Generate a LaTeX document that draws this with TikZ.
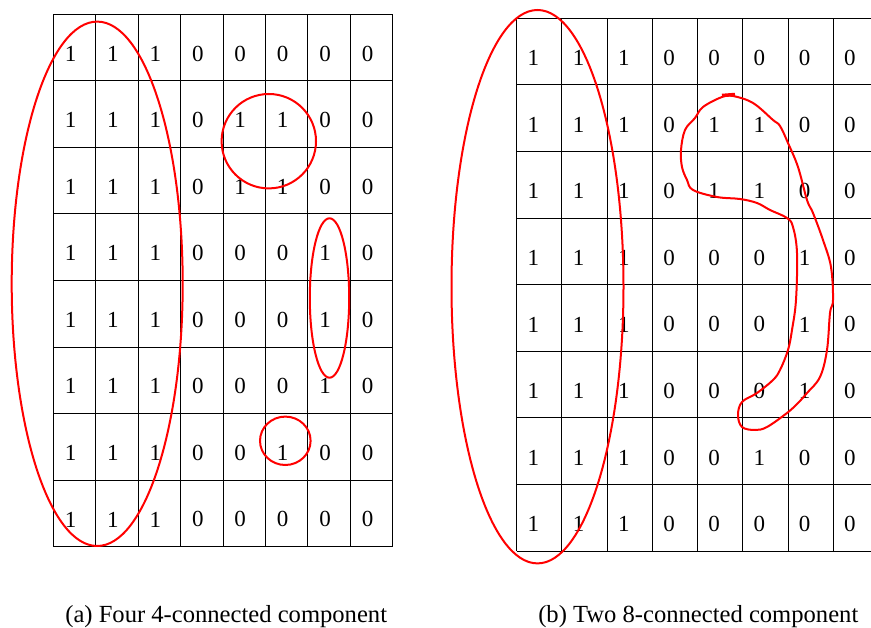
\documentclass[tikz,border=0pt]{standalone}
\usepackage{fontspec}
\setmainfont{Liberation Serif}

\begin{document}
\begin{tikzpicture}[x=1pt, y=-1pt,
  cell/.style={inner sep=0pt, font=\fontsize{23}{27}\selectfont},
  caption/.style={inner sep=0pt, font=\fontsize{24.6}{28}\selectfont},
  rule/.style={black, line width=1pt},
  blob/.style={red, line width=2pt}]
  \useasboundingbox (0,0) rectangle (871,628);
  \clip (0,0) rectangle (871,628);
  % (a) grid
  \foreach \i in {0,...,8} {
    \draw[rule] ({53.3+\i*42.43},14.3) -- ({53.3+\i*42.43},546.7);
    \draw[rule] (53.3,{14.3+\i*66.55}) -- (392.7,{14.3+\i*66.55});
  }
  % (b) grid
  \foreach \i in {0,...,8} {
    \draw[rule] ({516.7+\i*45.23},18.3) -- ({516.7+\i*45.23},551);
    \draw[rule] (516.7,{18.3+\i*66.59}) -- (880,{18.3+\i*66.59});
  }
  % digits
  \foreach \row [count=\r] in {{1,1,1,0,0,0,0,0},{1,1,1,0,1,1,0,0},
      {1,1,1,0,1,1,0,0},{1,1,1,0,0,0,1,0},{1,1,1,0,0,0,1,0},
      {1,1,1,0,0,0,1,0},{1,1,1,0,0,1,0,0},{1,1,1,0,0,0,0,0}} {
    \foreach \v [count=\c] in \row {
      \node[cell] (a\r\c) at ({53.3+(\c-0.5)*42.43-4},{14.3+(\r-0.5)*66.55+6}) {\v};
      \node[cell] (b\r\c) at ({516.7+(\c-0.5)*45.23-6},{18.3+(\r-0.5)*66.59+6.5}) {\v};
    }
  }
  % components (a)
  \draw[blob] (97.2,283.8) ellipse [x radius=85.5pt, y radius=262.2pt];
  \draw[blob] (268.8,141.2) circle [radius=47.2pt];
  \draw[blob] (329.5,298) ellipse [x radius=19.7pt, y radius=79.7pt];
  \draw[blob] (285.3,440.8) ellipse [x radius=25.3pt, y radius=24.2pt];
  % components (b)
  \draw[blob] (537.5,286.7) ellipse [x radius=86pt, y radius=276.7pt];
  \draw[blob] plot[smooth cycle, tension=0.6] coordinates {
    (733,96) (753,103) (773,120) (780,126) (788,143) (798,167) (807,200)
    (813,213) (823,240) (831,267) (833,300) (830,313) (827,350) (820,377)
    (807,393) (798,403) (787,413) (767,427) (755,430) (742,427) (738,415)
    (742,402) (757,393) (773,380) (780,370) (788,350) (792,330) (796,300)
    (797,253) (793,227) (787,218) (770,210) (757,203) (740,199) (717,197)
    (693,190) (687,180) (682,167) (681,150) (685,130) (695,118) (703,107)
    (722,97)};
  \draw[blob, line width=3.5pt] (722,95.5) -- (735,94.5);
  % captions
  \node[caption] (capa) at (226.2,616.7) {(a) Four 4-connected component};
  \node[caption] (capb) at (698.3,616.7) {(b) Two 8-connected component};
\end{tikzpicture}
\end{document}
